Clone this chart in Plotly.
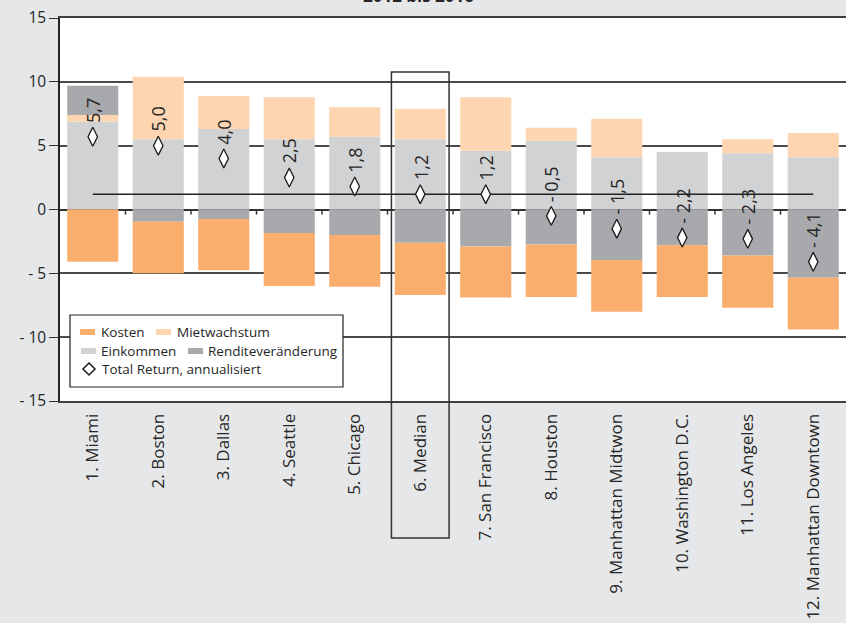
import plotly.graph_objects as go

# ---------------- data ----------------
cities = ["1. Miami", "2. Boston", "3. Dallas", "4. Seattle", "5. Chicago", "6. Median",
          "7. San Francisco", "8. Houston", "9. Manhattan Midtwon", "10. Washington D.C.",
          "11. Los Angeles", "12. Manhattan Downtown"]
einkommen = [6.9, 5.5, 6.3, 5.5, 5.7, 5.5, 4.6, 5.4, 4.1, 4.5, 4.4, 4.1]
mietwachstum = [0.5, 4.9, 2.6, 3.3, 2.3, 2.4, 4.2, 1.0, 3.0, 0.0, 1.1, 1.9]
rendite = [2.3, -0.95, -0.75, -1.85, -2.0, -2.6, -2.9, -2.75, -3.95, -2.8, -3.6, -5.35]
kosten = [-4.1, -4.05, -4.0, -4.15, -4.05, -4.1, -4.0, -4.1, -4.05, -4.05, -4.1, -4.05]
total_return = [5.7, 5.0, 4.0, 2.5, 1.8, 1.2, 1.2, -0.5, -1.5, -2.2, -2.3, -4.1]
median_line = [1.2] * 12
y_ticks = [15, 10, 5, 0, -5, -10, -15]
y_ticktext = ["15", "10", "5", "0", "- 5", "- 10", "- 15"]
highlight_index = 5
highlight_top = 10.77

# ---------------- styles ----------------
C_KOSTEN = "#F9AE6E"
C_MIET = "#FDD5B0"
C_EINK = "#D1D2D4"
C_REND = "#A7A9AC"
FONT = "Open Sans"
TXT = "#262626"
W, H = 846, 623
ML, MR, MT, MB = 60, 0, 18, 222
XR = [-0.5, 11.5]
YR = [-15, 15]
PW, PH = W - ML - MR, H - MT - MB


def px2x(px):
    return (px - ML) / PW


def py2y(py):
    return (H - MB - py) / PH


def fmt(v):
    s = f"{abs(v):.1f}".replace(".", ",")
    return ("- " + s) if v < 0 else s


fig = go.Figure()
for name, vals, col in [("Einkommen", einkommen, C_EINK),
                        ("Mietwachstum", mietwachstum, C_MIET),
                        ("Renditeveränderung", rendite, C_REND),
                        ("Kosten", kosten, C_KOSTEN)]:
    fig.add_trace(go.Bar(x=cities, y=vals, name=name, marker=dict(color=col, line=dict(width=0)),
                         showlegend=False))

fig.add_trace(go.Scatter(x=cities, y=median_line, mode="lines",
                         line=dict(color="#222222", width=1.5), showlegend=False, hoverinfo="skip"))
fig.add_trace(go.Scatter(x=cities, y=total_return, mode="markers", name="Total Return, annualisiert",
                         marker=dict(symbol="diamond-tall", size=13.5, color="white",
                                     line=dict(color="#1a1a1a", width=1.3)),
                         showlegend=False))

annotations = []
for c, v in zip(cities, total_return):
    annotations.append(dict(x=c, y=v, xref="x", yref="y", text=fmt(v), showarrow=False,
                            textangle=-90, yanchor="bottom", xanchor="center", yshift=12,
                            font=dict(family=FONT, size=18, color=TXT)))

# title (cut off at top, as in the original)
annotations.append(dict(x=px2x(418), y=py2y(9), xref="paper", yref="paper", text="<b>2012 bis 2016</b>",
                        showarrow=False, xanchor="center", yanchor="bottom",
                        font=dict(family=FONT, size=17, color=TXT)))

shapes = []
# category ticks on zero line
for i in range(len(cities) - 1):
    shapes.append(dict(type="line", xref="x", yref="y", x0=i + 0.5, x1=i + 0.5, y0=0, y1=-0.4,
                       line=dict(color="#333333", width=1.5)))

# highlight box around median
span = XR[1] - XR[0]
xc = (highlight_index - XR[0]) / span
hw = 0.44 / span
ytop = (highlight_top - YR[0]) / (YR[1] - YR[0])
shapes.append(dict(type="rect", xref="paper", yref="paper", x0=xc - hw, x1=xc + hw,
                   y0=py2y(538), y1=ytop, line=dict(color="#333333", width=1.5),
                   fillcolor="rgba(0,0,0,0)", layer="above"))

# manual legend
shapes.append(dict(type="rect", xref="paper", yref="paper", x0=px2x(70), x1=px2x(343),
                   y0=py2y(387), y1=py2y(315), fillcolor="white",
                   line=dict(color="#222222", width=1.2), layer="above"))
legend_items = [("Kosten", C_KOSTEN, 80, 332, 99),
                ("Mietwachstum", C_MIET, 156, 332, 175),
                ("Einkommen", C_EINK, 81, 351, 99),
                ("Renditeveränderung", C_REND, 188, 351, 206)]
for name, col, sx, cy, tx in legend_items:
    shapes.append(dict(type="rect", xref="paper", yref="paper", x0=px2x(sx), x1=px2x(sx + 15),
                       y0=py2y(cy + 3), y1=py2y(cy - 3), fillcolor=col, line=dict(width=0),
                       layer="above"))
    annotations.append(dict(x=px2x(tx), y=py2y(cy), xref="paper", yref="paper", text=name,
                            showarrow=False, xanchor="left", yanchor="middle",
                            font=dict(family=FONT, size=13.5, color=TXT)))
dx, dy, r = 89, 369, 6
path = (f"M {px2x(dx)} {py2y(dy - r)} L {px2x(dx + r)} {py2y(dy)} "
        f"L {px2x(dx)} {py2y(dy + r)} L {px2x(dx - r)} {py2y(dy)} Z")
shapes.append(dict(type="path", xref="paper", yref="paper", path=path, fillcolor="white",
                   line=dict(color="#1a1a1a", width=1.5), layer="above"))
annotations.append(dict(x=px2x(100), y=py2y(369), xref="paper", yref="paper",
                        text="Total Return, annualisiert", showarrow=False, xanchor="left",
                        yanchor="middle", font=dict(family=FONT, size=13.5, color=TXT)))

fig.update_layout(
    width=W, height=H, autosize=False,
    margin=dict(l=ML, r=MR, t=MT, b=MB, pad=0),
    paper_bgcolor="#E6E7E8", plot_bgcolor="white",
    barmode="relative", bargap=0.22,
    showlegend=False,
    shapes=shapes, annotations=annotations,
    font=dict(family=FONT, color=TXT),
)
fig.update_xaxes(type="category", range=XR, showgrid=False, showline=True, mirror=True,
                 linecolor="#404040", linewidth=2, ticks="", tickangle=-90,
                 ticklabelstandoff=4, tickfont=dict(family=FONT, size=17, color=TXT),
                 zeroline=False, fixedrange=True)
fig.update_yaxes(range=YR, tickvals=y_ticks, ticktext=y_ticktext, showgrid=True,
                 gridcolor="#4a4a4a", gridwidth=1.5, zeroline=True, zerolinecolor="#333333",
                 zerolinewidth=1.5, showline=True, linecolor="#222222", linewidth=1.5,
                 ticks="outside", ticklen=9, tickcolor="#333333", tickwidth=1.2,
                 tickfont=dict(family=FONT, size=15.5, color=TXT), fixedrange=True)

fig.write_html("out.html")
